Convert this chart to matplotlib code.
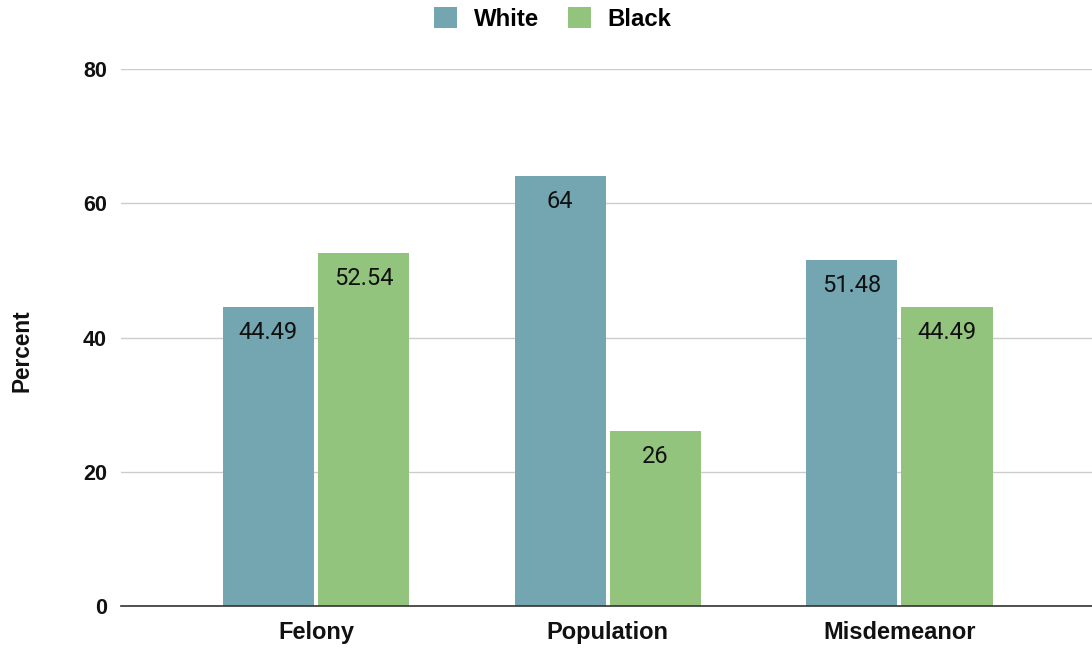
import matplotlib.pyplot as plt
import numpy as np

categories = ["Felony", "Population", "Misdemeanor"]
white = [44.49, 64, 51.48]
black = [52.54, 26, 44.49]
value_labels_white = ["44.49", "64", "51.48"]
value_labels_black = ["52.54", "26", "44.49"]

plt.rcParams["font.family"] = ["Roboto", "DejaVu Sans"]
sans = ["Liberation Sans", "DejaVu Sans"]

fig = plt.figure(figsize=(10.92, 6.5), dpi=100)
ax = fig.add_axes([121 / 1092, 1 - 606 / 650, 1 - 121 / 1092, (606 - 69) / 650])

x = np.arange(len(categories))
w = 0.312
gap = 0.007
b1 = ax.bar(x - w / 2 - gap, white, w, color="#73a6b0", label="White", zorder=3)
b2 = ax.bar(x + w / 2 + gap, black, w, color="#93c47d", label="Black", zorder=3)

for bars, labels in ((b1, value_labels_white), (b2, value_labels_black)):
    for rect, lab in zip(bars, labels):
        ax.annotate(lab, (rect.get_x() + rect.get_width() / 2, rect.get_height()),
                    xytext=(0, -18), textcoords="offset points",
                    ha="center", va="center", fontsize=17, color="#111111", zorder=4)

ax.set_ylim(0, 80)
ax.set_xlim(-0.668, 2.66)
ax.set_yticks([0, 20, 40, 60, 80])
ax.set_xticks(x)
ax.set_xticklabels(categories, family=sans, weight="bold", size=17, color="#111111")
ax.set_yticklabels(["0", "20", "40", "60", "80"], family=sans, weight="bold",
                   size=15.5, color="#111111")
ax.tick_params(axis="both", length=0)
ax.tick_params(axis="y", pad=10)
ax.tick_params(axis="x", pad=11)

ax.grid(axis="y", color="#cccccc", linewidth=1, zorder=0)
for s in ["top", "right", "left"]:
    ax.spines[s].set_visible(False)
ax.spines["bottom"].set_color("#333333")
ax.spines["bottom"].set_linewidth(1.2)
ax.spines["bottom"].set_zorder(5)

fig.text(22 / 1092, 1 - 351 / 650, "Percent", rotation=90, ha="center", va="center",
         family=sans, weight="bold", size=16.3, color="#111111")

fig.legend(loc="center", bbox_to_anchor=(553 / 1092, 1 - 19 / 650), ncol=2,
           frameon=False, prop={"family": sans, "weight": "bold", "size": 17.3},
           handlelength=0.95, handleheight=0.95, columnspacing=1.2, handletextpad=0.7)

fig.savefig("out.png", dpi=100)
